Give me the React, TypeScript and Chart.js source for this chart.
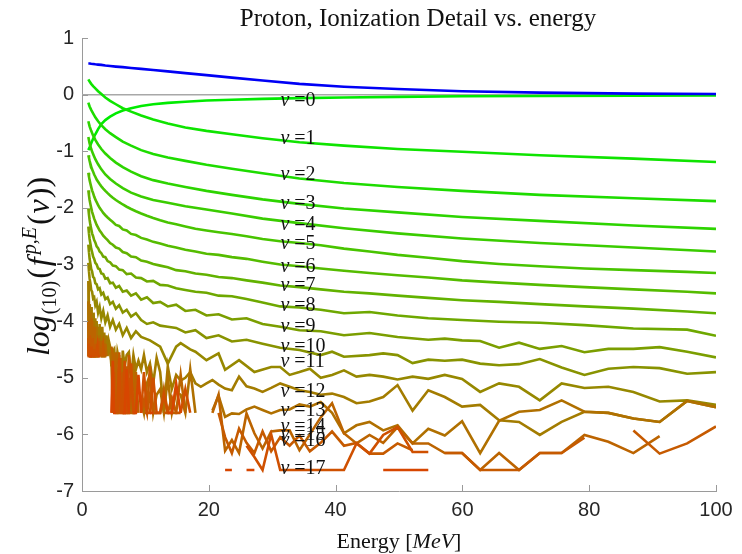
import React, { useEffect, useRef } from "react";
import { Chart, registerables } from "chart.js";
Chart.register(...registerables);

type Pt = [number, number | null];

const TITLE = "Proton, Ionization Detail vs. energy";
const X_TICKS = [0, 20, 40, 60, 80, 100];
const Y_TICKS = [1, 0, -1, -2, -3, -4, -5, -6, -7];

const E_SMOOTH = [1, 1.2, 1.45, 1.75, 2.1, 2.54, 3.05, 3.68, 4.43, 5.34, 6.43, 7.74, 9.33, 11.23, 13.53, 16.3, 19.63, 23.64, 28.48, 34.3, 41.32, 49.77, 59.95, 72.21, 86.97, 100];
const BLUE = [0.55, 0.55, 0.545, 0.54, 0.535, 0.53, 0.525, 0.515, 0.505, 0.495, 0.485, 0.47, 0.455, 0.435, 0.41, 0.38, 0.345, 0.3, 0.25, 0.19, 0.14, 0.1, 0.06, 0.035, 0.018, 0.012];
const NU0 = [-0.98, -0.93, -0.86, -0.78, -0.7, -0.61, -0.52, -0.45, -0.39, -0.33, -0.28, -0.24, -0.2, -0.17, -0.145, -0.125, -0.105, -0.09, -0.075, -0.062, -0.05, -0.04, -0.03, -0.025, -0.02, -0.015];
const NU1 = [0.27, 0.23, 0.19, 0.15, 0.11, 0.06, 0.01, -0.05, -0.11, -0.17, -0.24, -0.3, -0.37, -0.44, -0.51, -0.58, -0.64, -0.7, -0.77, -0.84, -0.9, -0.96, -1.01, -1.07, -1.13, -1.19];
const NU2 = [-0.14, -0.21, -0.27, -0.33, -0.4, -0.47, -0.54, -0.61, -0.68, -0.75, -0.83, -0.9, -0.98, -1.05, -1.11, -1.17, -1.24, -1.31, -1.39, -1.48, -1.56, -1.63, -1.7, -1.77, -1.83, -1.88];
const NU3 = [-0.47, -0.56, -0.64, -0.72, -0.8, -0.88, -0.96, -1.04, -1.12, -1.2, -1.28, -1.36, -1.44, -1.51, -1.57, -1.63, -1.7, -1.77, -1.85, -1.93, -2.01, -2.08, -2.16, -2.23, -2.31, -2.37];
const NU4 = [-0.75, -0.86, -0.96, -1.05, -1.14, -1.23, -1.32, -1.41, -1.49, -1.57, -1.65, -1.73, -1.8, -1.86, -1.91, -1.97, -2.03, -2.1, -2.19, -2.27, -2.36, -2.45, -2.54, -2.62, -2.7, -2.77];

const E_MID = [1.0, 1.1, 1.2, 1.32, 1.45, 1.59, 1.75, 1.92, 2.1, 2.31, 2.54, 2.78, 3.05, 3.35, 3.68, 4.04, 4.43, 4.86, 5.34, 5.86, 6.43, 7.05, 7.74, 8.5, 9.33, 10.24, 11.23, 12.33, 13.53, 14.85, 16.3, 17.89, 19.63, 21.54, 23.64, 25.95, 28.48, 31.26, 34.3, 37.65, 41.32, 45.35, 49.77, 54.62, 59.95, 65.79, 72.21, 79.25, 86.97, 95.45, 100];
const NU5 = [-1.07, -1.12, -1.17, -1.22, -1.27, -1.32, -1.36, -1.41, -1.45, -1.5, -1.54, -1.58, -1.62, -1.66, -1.7, -1.74, -1.78, -1.82, -1.86, -1.9, -1.94, -1.98, -2.02, -2.06, -2.1, -2.14, -2.18, -2.22, -2.26, -2.29, -2.33, -2.37, -2.4, -2.43, -2.46, -2.5, -2.55, -2.59, -2.62, -2.66, -2.72, -2.77, -2.83, -2.88, -2.94, -2.99, -3.03, -3.07, -3.1, -3.13, -3.15];
const NU6 = [-1.38, -1.45, -1.51, -1.57, -1.63, -1.69, -1.74, -1.8, -1.85, -1.9, -1.95, -2.0, -2.04, -2.09, -2.13, -2.17, -2.21, -2.25, -2.3, -2.32, -2.38, -2.4, -2.46, -2.48, -2.53, -2.56, -2.6, -2.63, -2.67, -2.7, -2.74, -2.77, -2.81, -2.83, -2.87, -2.9, -2.95, -3.0, -3.03, -3.07, -3.11, -3.15, -3.19, -3.23, -3.28, -3.32, -3.36, -3.4, -3.44, -3.48, -3.51];
const NU7 = [-1.69, -1.78, -1.86, -1.93, -2.0, -2.07, -2.13, -2.19, -2.24, -2.3, -2.35, -2.4, -2.44, -2.49, -2.53, -2.57, -2.62, -2.65, -2.7, -2.72, -2.78, -2.8, -2.86, -2.87, -2.93, -2.95, -2.99, -3.02, -3.05, -3.1, -3.12, -3.16, -3.18, -3.22, -3.24, -3.28, -3.32, -3.37, -3.4, -3.44, -3.48, -3.51, -3.55, -3.59, -3.63, -3.66, -3.7, -3.74, -3.78, -3.83, -3.86];
const NU8 = [-2.01, -2.12, -2.21, -2.3, -2.37, -2.45, -2.5, -2.57, -2.61, -2.68, -2.71, -2.77, -2.8, -2.86, -2.87, -2.94, -2.96, -3.02, -3.03, -3.09, -3.1, -3.17, -3.16, -3.23, -3.24, -3.3, -3.29, -3.36, -3.37, -3.42, -3.45, -3.48, -3.5, -3.55, -3.56, -3.61, -3.67, -3.74, -3.76, -3.8, -3.86, -3.84, -3.9, -3.95, -3.98, -4.01, -4.03, -4.07, -4.13, -4.15, -4.26];

const NU9: Pt[] = [[1, -2.33], [1.1, -2.45], [1.2, -2.55], [1.32, -2.63], [1.45, -2.72], [1.59, -2.78], [1.75, -2.86], [1.92, -2.9], [2.1, -2.97], [2.31, -3.0], [2.54, -3.07], [2.78, -3.08], [3.05, -3.16], [3.35, -3.17], [3.68, -3.25], [4.04, -3.24], [4.43, -3.33], [4.86, -3.32], [5.34, -3.41], [5.86, -3.38], [6.43, -3.48], [7.05, -3.46], [7.74, -3.55], [8.5, -3.51], [9.33, -3.62], [10.24, -3.58], [11.23, -3.68], [12.33, -3.66], [13.53, -3.74], [14.85, -3.71], [16.3, -3.82], [17.89, -3.8], [19.63, -3.9], [21.54, -3.88], [23.64, -3.97], [25.95, -3.95], [28.48, -4.05], [31.26, -4.1], [34.3, -4.16], [37.65, -4.18], [41.32, -4.25], [45.35, -4.21], [49.77, -4.28], [54.62, -4.33], [57.22, -4.31], [59.95, -4.34], [62.8, -4.35], [65.79, -4.47], [68.93, -4.38], [72.21, -4.49], [75.65, -4.44], [79.25, -4.55], [83.02, -4.49], [86.97, -4.49], [91.11, -4.46], [95.45, -4.54], [100, -4.64]];

const NU10: Pt[] = [[1, -2.65], [1.1, -2.78], [1.2, -2.9], [1.32, -2.98], [1.45, -3.08], [1.59, -3.12], [1.75, -3.22], [1.92, -3.24], [2.1, -3.33], [2.31, -3.35], [2.54, -3.44], [2.78, -3.42], [3.05, -3.53], [3.35, -3.5], [3.68, -3.61], [4.04, -3.58], [4.43, -3.7], [4.86, -3.66], [5.34, -3.78], [5.86, -3.72], [6.43, -3.85], [7.05, -3.8], [7.74, -3.92], [8.5, -3.86], [9.33, -3.98], [10.24, -4.05], [11.23, -4.02], [12.33, -4.08], [13.53, -4.1], [14.85, -4.12], [16.3, -4.2], [17.89, -4.16], [19.63, -4.3], [21.54, -4.25], [23.64, -4.36], [25.95, -4.33], [28.48, -4.4], [31.26, -4.47], [34.3, -4.51], [37.65, -4.6], [39.44, -4.54], [41.32, -4.63], [45.35, -4.6], [47.51, -4.57], [49.77, -4.6], [52.14, -4.74], [54.62, -4.68], [57.22, -4.7], [59.95, -4.68], [62.8, -4.75], [65.79, -4.78], [68.93, -4.76], [72.21, -4.67], [75.65, -4.82], [79.25, -4.95], [83.02, -4.84], [86.97, -4.81], [91.11, -4.83], [95.45, -4.93], [100, -4.9]];

const NU11: Pt[] = [[1, -2.97], [1.1, -3.12], [1.2, -3.25], [1.32, -3.33], [1.45, -3.45], [1.59, -3.48], [1.75, -3.6], [1.92, -3.58], [2.1, -3.72], [2.31, -3.66], [2.54, -3.85], [2.78, -3.75], [3.05, -3.95], [3.35, -3.82], [3.68, -4.02], [4.04, -3.9], [4.43, -4.1], [4.86, -3.98], [5.34, -4.15], [5.86, -4.05], [6.43, -4.25], [7.05, -4.12], [7.74, -4.3], [8.5, -4.18], [9.33, -4.28], [10.72, -4.34], [12.33, -4.45], [13.53, -4.75], [14.85, -4.45], [15.56, -4.39], [17.07, -4.5], [17.89, -4.54], [19.63, -4.69], [21.54, -4.57], [22.57, -4.86], [24.77, -4.69], [27.19, -4.9], [29.84, -4.81], [31.26, -4.81], [32.75, -4.95], [34.3, -4.9], [35.94, -4.84], [37.65, -5.0], [39.44, -4.95], [41.32, -4.87], [43.29, -4.98], [45.35, -4.95], [47.51, -4.98], [49.77, -5.03], [52.14, -4.98], [54.62, -5.02], [57.22, -4.95], [59.95, -5.02], [62.8, -5.25], [65.79, -5.1], [68.93, -5.16], [72.21, -5.4], [75.65, -5.1], [79.25, -5.18], [83.02, -5.16], [86.97, -5.25], [91.11, -5.42], [95.45, -5.4], [100, -5.48]];

const NU12: Pt[] = [[1, -3.29], [1.05, -3.6], [1.1, -4.62], [1.15, -3.7], [1.2, -4.0], [1.26, -4.62], [1.32, -3.8], [1.38, -4.62], [1.45, -3.75], [1.52, -4.2], [1.59, -4.62], [1.67, -3.9], [1.75, -4.62], [1.83, -3.85], [1.92, -4.3], [2.01, -4.62], [2.1, -3.95], [2.21, -4.62], [2.31, -4.0], [2.42, -4.62], [2.54, -4.1], [2.66, -4.62], [2.78, -4.05], [2.92, -4.4], [3.05, -4.62], [3.2, -4.1], [3.35, -4.62], [3.51, -4.2], [3.68, -4.62], [3.85, -4.25], [4.04, -4.62], [4.23, -4.35], [4.43, -4.45], [4.64, -4.8], [4.86, -4.55], [5.09, -4.5], [5.34, -4.95], [5.59, -4.55], [5.86, -4.7], [6.14, -5.62], [6.43, -4.52], [6.73, -4.8], [7.05, -4.6], [7.39, -4.55], [7.74, -5.0], [8.11, -4.6], [8.5, -4.85], [8.9, -4.7], [9.33, -4.85], [9.77, -4.6], [10.24, -4.9], [10.72, -4.75], [11.23, -5.1], [11.77, -4.65], [12.33, -4.9], [12.92, -5.62], [13.53, -4.8], [14.17, -5.2], [14.85, -4.95], [15.56, -5.05], [16.3, -5.0], [17.07, -4.9], [17.89, -5.1], [18.74, -5.16], [19.63, -5.1], [20.57, -5.04], [21.54, -5.12], [22.57, -5.19], [23.64, -5.22], [24.77, -4.98], [25.95, -5.15], [27.19, -5.19], [28.48, -5.25], [29.84, -5.18], [31.26, -5.1], [32.75, -5.16], [34.3, -5.22], [35.94, -5.25], [37.65, -5.3], [39.44, -5.28], [41.32, -5.34], [43.29, -5.45], [45.35, -5.42], [47.51, -5.34], [49.77, -5.13], [52.14, -5.58], [54.62, -5.22], [57.22, -5.34], [59.95, -5.51], [62.8, -5.48], [65.79, -5.75], [68.93, -5.78], [72.21, -6.01], [75.65, -5.78], [79.25, -5.6], [83.02, -5.62], [86.97, -5.72], [91.11, -5.78], [95.45, -5.41], [100, -5.52]];

const NU13: Pt[] = [[1, -3.65], [1.05, -4.62], [1.1, -3.9], [1.15, -4.62], [1.2, null], [1.26, -4.0], [1.32, -4.62], [1.38, -3.85], [1.45, -4.62], [1.52, -4.62], [1.59, -4.1], [1.67, -4.62], [1.75, -4.0], [1.83, -4.62], [1.92, -4.62], [2.01, -4.2], [2.1, -4.62], [2.21, -4.1], [2.31, -4.62], [2.42, -4.3], [2.54, -4.62], [2.66, -4.62], [2.78, -4.25], [2.92, -4.62], [3.05, -4.35], [3.2, -4.62], [3.35, -4.62], [3.51, -4.3], [3.68, -4.62], [3.85, -4.62], [4.04, null],
  [4.43, -4.55], [4.64, -4.7], [4.86, -5.62], [5.09, -4.65], [5.34, -4.8], [5.59, -5.62], [5.86, -4.6], [6.14, -5.3], [6.43, -5.62], [6.73, -4.7], [7.05, -5.62], [7.39, -5.0], [7.74, -5.62], [8.11, -4.75], [8.5, -5.62], [8.9, null], [9.33, -5.4], [9.77, -5.62], [10.24, -5.1], [10.72, -4.95], [11.23, -5.62], [11.77, -5.3], [12.33, -5.2], [12.92, -5.62], [13.53, -5.0], [14.17, -5.62], [14.85, -5.25], [15.56, -5.3], [16.3, -5.62], [17.07, -4.85], [17.89, -5.62], [18.74, null],
  [20.57, -5.58], [21.54, -5.32], [22.57, -5.69], [23.64, -5.63], [24.77, -5.64], [25.95, -5.56], [27.19, -5.51], [28.48, -5.57], [29.84, -5.63], [31.26, -5.57], [32.75, -5.56], [34.3, -5.47], [35.94, -5.51], [37.65, -5.43], [39.44, -5.62], [41.32, -5.98], [43.29, -5.84], [45.35, -5.78], [47.51, -5.93], [49.77, -5.84], [52.14, -6.16], [54.62, -5.9], [57.22, -6.02], [59.95, -5.77], [62.8, -6.33], [65.79, -5.76], [68.93, -5.6], [72.21, -5.57], [75.65, -5.4], [79.25, -5.6], [83.02, -5.62], [86.97, -5.72], [91.11, -5.78], [95.45, -5.41], [100, -5.52]];

const NU14: Pt[] = [[1, -4.0], [1.05, -4.62], [1.1, -4.62], [1.15, -4.1], [1.2, -4.62], [1.26, null], [1.32, -4.62], [1.38, -4.2], [1.45, -4.62], [1.52, -3.95], [1.59, -4.62], [1.67, -4.62], [1.75, -4.3], [1.83, -4.62], [1.92, -4.1], [2.01, -4.62], [2.1, -4.62], [2.21, -4.4], [2.31, -4.62], [2.42, -4.62], [2.54, -4.3], [2.66, -4.62], [2.78, null], [2.92, -4.62], [3.05, -4.62], [3.2, -4.35], [3.35, -4.62], [3.51, -4.62], [3.68, -4.4], [3.85, -4.62], [4.04, null],
  [4.64, -4.45], [4.86, -4.6], [5.09, -5.62], [5.34, -4.55], [5.59, -5.62], [5.86, -5.62], [6.14, -4.65], [6.43, -5.62], [6.73, -5.62], [7.05, -4.8], [7.39, -5.62], [7.74, -5.62], [8.11, -5.62], [8.5, -4.9], [8.9, -5.62], [9.33, null], [9.77, -5.62], [10.24, -5.62], [10.72, -5.3], [11.23, -5.62], [11.77, -5.62], [12.33, -5.62], [12.92, -5.2], [13.53, -5.62], [14.17, -5.62], [14.85, -5.62], [15.56, -4.95], [16.3, -5.62], [17.07, null],
  [20.57, -5.62], [21.54, -5.3], [22.57, -6.29], [23.64, -6.1], [24.77, -6.33], [25.95, -5.63], [27.19, -5.98], [28.48, -6.25], [29.84, -5.95], [31.26, -5.93], [32.75, -5.93], [34.3, -6.28], [35.94, -6.0], [37.65, -5.7], [39.44, -5.45], [41.32, -5.98], [43.29, -6.16], [45.35, -6.01], [47.51, -6.15], [49.77, -5.87], [52.14, -6.16], [54.62, -6.16], [57.22, -6.33], [59.95, -6.33], [62.8, -6.63], [65.79, -6.33], [68.93, -6.63], [72.21, -6.33], [75.65, -6.33], [79.25, -6.01], [83.02, -6.13], [86.97, -6.33], [91.11, -6.03]];

const NU15: Pt[] = [[1, -4.3], [1.05, -4.62], [1.1, null], [1.15, -4.62], [1.2, -4.62], [1.26, -4.25], [1.32, -4.62], [1.38, -4.62], [1.45, -4.4], [1.52, -4.62], [1.59, -4.62], [1.67, -4.3], [1.75, -4.62], [1.83, -4.62], [1.92, null], [2.01, -4.62], [2.1, -4.4], [2.21, -4.62], [2.31, -4.62], [2.42, -4.62], [2.54, -4.62], [2.66, -4.35], [2.78, -4.62], [2.92, -4.62], [3.05, null], [3.2, -4.62], [3.35, -4.45], [3.51, -4.62], [3.68, null],
  [5.09, -4.9], [5.34, -5.62], [5.59, -5.62], [5.86, -4.55], [6.14, -5.62], [6.43, -4.9], [6.73, -5.62], [7.05, -5.62], [7.39, -4.6], [7.74, -4.95], [8.11, -5.62], [8.5, -5.62], [8.9, null], [9.33, -5.62], [9.77, -5.4], [10.24, -5.62], [10.72, -4.8], [11.23, -5.62], [11.77, -5.62], [12.33, null], [12.92, -5.62], [13.53, -5.62], [14.17, -5.35], [14.85, -5.62], [15.56, -5.62], [16.3, null],
  [21.54, -5.62], [22.57, -6.05], [23.64, -6.33], [24.77, -5.9], [25.95, -6.15], [27.19, -6.33], [28.48, -5.95], [29.84, -6.3], [31.26, -6.05], [32.75, -6.2], [34.3, -6.02], [35.94, -6.3], [37.65, -6.15], [39.44, -5.95], [41.32, -6.2], [43.29, -6.15], [45.35, -6.34], [47.51, -6.34], [49.77, -6.16], [52.14, -6.28], [54.62, null], [57.22, -6.33], [59.95, -6.33], [62.8, -6.63], [65.79, -6.63], [68.93, -6.63], [72.21, -6.33], [75.65, -6.33], [79.25, -6.06], [83.02, null], [86.97, -5.93], [91.11, -6.34], [95.45, -6.16], [100, -5.86]];

const NU16: Pt[] = [[1, -4.62], [1.05, -4.4], [1.1, -4.62], [1.15, -4.62], [1.2, null], [1.26, -4.62], [1.32, -4.62], [1.38, -4.62], [1.45, -4.45], [1.52, -4.62], [1.59, null], [1.67, -4.62], [1.75, -4.62], [1.83, -4.5], [1.92, -4.62], [2.01, null], [2.21, -4.62], [2.31, -4.62], [2.42, -4.45], [2.54, -4.62], [2.66, null],
  [5.59, -5.62], [5.86, -4.65], [6.14, -5.62], [6.43, -5.62], [6.73, -4.7], [7.05, -5.62], [7.39, -5.62], [7.74, -4.75], [8.11, -5.62], [8.5, null], [9.33, -5.62], [9.77, -4.9], [10.24, -5.62], [10.72, -5.62], [11.23, -5.0], [11.77, -5.62], [12.33, -5.62], [12.92, -5.3], [13.53, -5.62], [14.17, null], [15.56, -5.62], [16.3, -5.2], [17.07, -5.62], [17.89, null],
  [25.95, -6.2], [27.19, -6.4], [28.48, -6.63], [29.84, -6.0], [31.26, -6.63], [32.75, -6.63], [34.3, -6.63], [35.94, -6.63], [37.65, -6.63], [39.44, -6.63], [41.32, -6.63], [43.29, -6.16], [45.35, -6.34], [47.51, -6.01], [49.77, -5.87], [52.14, -6.31], [54.62, -6.31], [57.22, null]];

const NU17: Pt[] = [[1, -4.62], [1.05, -4.62], [1.1, -4.62], [1.15, null], [1.2, -4.62], [1.26, -4.62], [1.32, -4.62], [1.38, null], [1.45, -4.62], [1.52, -4.62], [1.59, -4.62], [1.67, -4.62], [1.75, null], [1.83, -4.62], [1.92, -4.62], [2.01, -4.62], [2.1, null], [2.21, -4.62], [2.31, -4.62], [2.42, null], [2.54, -4.62], [2.66, -4.62], [2.78, -4.62], [2.92, null],
  [4.64, -5.62], [4.86, -4.7], [5.09, -5.62], [5.34, -5.62], [5.59, null], [6.43, -5.62], [6.73, -5.62], [7.05, -4.85], [7.39, -5.62], [7.74, null], [8.11, -5.62], [8.5, -5.62], [8.9, -4.95], [9.33, -5.62], [9.77, null], [10.72, -5.62], [11.23, -5.62], [11.77, null], [13.53, -5.62], [14.17, -5.62], [14.85, -5.1], [15.56, -5.62], [16.3, null],
  [22.57, -6.63], [23.64, -6.63], [24.77, null], [25.95, -6.63], [27.19, -6.63], [28.48, null],
  [47.51, -6.63], [49.77, -6.63], [52.14, -6.63], [54.62, -6.63], [57.22, null]];

const NU_COLORS = [
  "rgb(0,235,0)", "rgb(15,228,0)", "rgb(30,220,0)", "rgb(45,212,0)", "rgb(58,204,0)", "rgb(72,196,0)",
  "rgb(85,188,0)", "rgb(98,178,0)", "rgb(110,168,0)", "rgb(123,158,0)", "rgb(136,147,0)", "rgb(150,136,0)",
  "rgb(163,124,0)", "rgb(176,112,0)", "rgb(188,100,0)", "rgb(198,90,0)", "rgb(207,80,0)", "rgb(215,70,0)",
];
const BLUE_COLOR = "rgb(0,0,245)";
const NU_LABEL_Y = [-0.1, -0.78, -1.42, -1.92, -2.29, -2.64, -3.04, -3.38, -3.72, -4.1, -4.46, -4.72, -5.24, -5.59, -5.87, -6.01, -6.12, -6.6];
const LABEL_E = 31.3;

const AXIS_COLOR = "#9a9a9a";
const TEXT_COLOR = "#262626";
const SERIF = '"Liberation Serif", "DejaVu Serif", serif';
const SANS = '"Liberation Sans", Arial, sans-serif';

function fromGrid(xs: number[], ys: number[]) {
  return xs.map((x, i) => ({ x, y: ys[i] }));
}
function fromPts(p: Pt[]) {
  return p.map(([x, y]) => ({ x, y }));
}

const decorPlugin = {
  id: "decor",
  afterDraw(chart: any) {
    const ctx: CanvasRenderingContext2D = chart.ctx;
    const xs = chart.scales.x;
    const ys = chart.scales.y;
    const area = chart.chartArea;
    ctx.save();
    ctx.strokeStyle = AXIS_COLOR;
    ctx.lineWidth = 1;
    ctx.beginPath();
    X_TICKS.forEach((t) => {
      const px = Math.round(xs.getPixelForValue(t)) + 0.5;
      ctx.moveTo(px, area.bottom);
      ctx.lineTo(px, area.bottom - 6);
    });
    Y_TICKS.forEach((t) => {
      const py = Math.round(ys.getPixelForValue(t)) + 0.5;
      ctx.moveTo(area.left, py);
      ctx.lineTo(area.left + 6, py);
    });
    ctx.stroke();

    ctx.fillStyle = "#111";
    ctx.textBaseline = "middle";
    ctx.textAlign = "left";
    NU_LABEL_Y.forEach((v, i) => {
      const px = xs.getPixelForValue(LABEL_E);
      const py = ys.getPixelForValue(v);
      ctx.font = `italic 20px ${SERIF}`;
      ctx.fillText("\u03bd", px, py);
      const w = ctx.measureText("\u03bd").width;
      ctx.font = `20px ${SERIF}`;
      ctx.fillText(" =" + i, px + w, py);
    });

    ctx.fillStyle = "#111";
    ctx.textAlign = "center";
    ctx.textBaseline = "alphabetic";
    ctx.font = `25px ${SERIF}`;
    ctx.fillText(TITLE, 418, 26);

    const parts: [string, string][] = [["Energy [", `22px ${SERIF}`], ["MeV", `italic 22px ${SERIF}`], ["]", `22px ${SERIF}`]];
    let tw = 0;
    parts.forEach(([t, f]) => { ctx.font = f; tw += ctx.measureText(t).width; });
    let cx = (area.left + area.right) / 2 - tw / 2;
    ctx.textAlign = "left";
    parts.forEach(([t, f]) => { ctx.font = f; ctx.fillText(t, cx, 548); cx += ctx.measureText(t).width; });

    ctx.translate(39, (area.top + area.bottom) / 2 + 2);
    ctx.rotate(-Math.PI / 2);
    const yparts: [string, string, number][] = [
      ["log", `italic 32px ${SERIF}`, 0],
      ["(10)", `20px ${SERIF}`, 7],
      ["(", `32px ${SERIF}`, 0],
      ["f", `italic 32px ${SERIF}`, 0],
      ["p,E", `italic 20px ${SERIF}`, -13],
      ["(", `32px ${SERIF}`, 0],
      ["\u03bd", `italic 32px ${SERIF}`, 0],
      ["))", `32px ${SERIF}`, 0],
    ];
    const gaps = [1, 2, 2, 3, 2, 1, 1, 0];
    let yw = 0;
    yparts.forEach(([t, f], i) => { ctx.font = f; yw += ctx.measureText(t).width + gaps[i]; });
    let yx = -yw / 2;
    yparts.forEach(([t, f, dy], i) => { ctx.font = f; ctx.fillText(t, yx, 10 + dy); yx += ctx.measureText(t).width + gaps[i]; });
    ctx.restore();
  },
};

export default function App() {
  const ref = useRef<HTMLCanvasElement>(null);
  useEffect(() => {
    if (!ref.current) return;
    const nuGrid = [NU0, NU1, NU2, NU3, NU4].map((a) => fromGrid(E_SMOOTH, a));
    const nuMid = [NU5, NU6, NU7, NU8].map((a) => fromGrid(E_MID, a));
    const nuPts = [NU9, NU10, NU11, NU12, NU13, NU14, NU15, NU16, NU17].map(fromPts);
    const all = [...nuGrid, ...nuMid, ...nuPts];
    const datasets: any[] = all.map((d, i) => ({
      data: d,
      borderColor: NU_COLORS[i],
      borderWidth: 2.6,
      pointRadius: 0,
      tension: 0,
      spanGaps: false,
      order: 40 - i,
    }));
    datasets.push({
      data: fromGrid(E_SMOOTH, BLUE),
      borderColor: BLUE_COLOR,
      borderWidth: 2.6,
      pointRadius: 0,
      order: 0,
    });
    datasets.push({
      data: [{ x: 0, y: 0 }, { x: 100, y: 0 }],
      borderColor: "#a8a8a8",
      borderWidth: 1.5,
      pointRadius: 0,
      order: 100,
    });
    const chart = new Chart(ref.current, {
      type: "line",
      data: { datasets },
      options: {
        animation: false,
        responsive: false,
        devicePixelRatio: 1,
        layout: { padding: { top: 38, right: 26, left: 0, bottom: 0 } },
        plugins: { legend: { display: false }, tooltip: { enabled: false }, title: { display: false } },
        elements: { line: { borderCapStyle: "butt", borderJoinStyle: "miter" } },
        scales: {
          x: {
            type: "linear",
            min: 0,
            max: 100,
            ticks: { stepSize: 20, color: TEXT_COLOR, font: { family: SANS, size: 20 }, padding: 7, maxRotation: 0 },
            grid: { display: false, drawTicks: false },
            border: { display: true, color: AXIS_COLOR, width: 1 },
            afterFit: (s: any) => { s.height = 63; },
          },
          y: {
            type: "linear",
            min: -7,
            max: 1,
            ticks: { stepSize: 1, color: TEXT_COLOR, font: { family: SANS, size: 20 }, padding: 8 },
            grid: { display: false, drawTicks: false },
            border: { display: true, color: AXIS_COLOR, width: 1 },
            afterFit: (s: any) => { s.width = 82; },
          },
        },
      } as any,
      plugins: [decorPlugin],
    });
    return () => chart.destroy();
  }, []);
  return (
    <div style={{ position: "fixed", left: 0, top: 0, width: 742, height: 554, background: "#fff" }}>
      <canvas ref={ref} width={742} height={554} style={{ width: 742, height: 554, display: "block" }} />
    </div>
  );
}
